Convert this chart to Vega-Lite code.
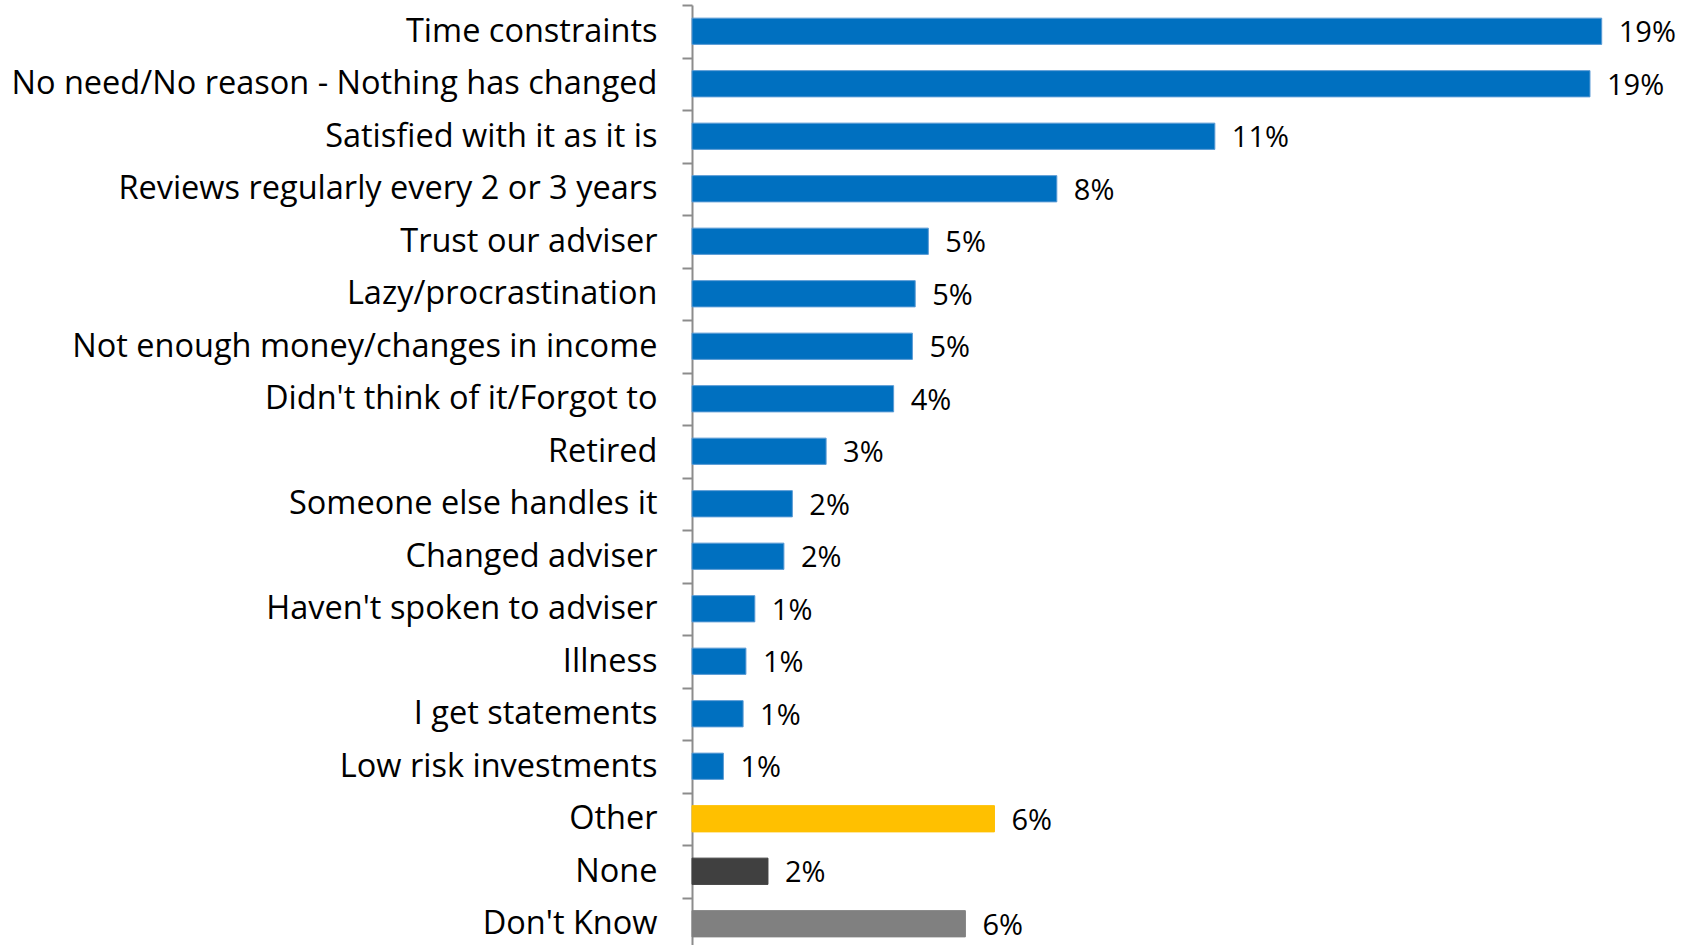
{
  "$schema": "https://vega.github.io/schema/vega-lite/v6.json",
  "width": 996,
  "height": 945,
  "autosize": {"type": "none"},
  "padding": {"left": 692, "top": 5, "right": 0, "bottom": 0},
  "background": "white",
  "config": {"view": {"stroke": null}, "font": "Open Sans"},
  "data": {"values": [
    {"reason": "Time constraints", "value": 0.194, "group": "main"},
    {"reason": "No need/No reason - Nothing has changed", "value": 0.1915, "group": "main"},
    {"reason": "Satisfied with it as it is", "value": 0.1115, "group": "main"},
    {"reason": "Reviews regularly every 2 or 3 years", "value": 0.0778, "group": "main"},
    {"reason": "Trust our adviser", "value": 0.0504, "group": "main"},
    {"reason": "Lazy/procrastination", "value": 0.0476, "group": "main"},
    {"reason": "Not enough money/changes in income", "value": 0.047, "group": "main"},
    {"reason": "Didn't think of it/Forgot to", "value": 0.043, "group": "main"},
    {"reason": "Retired", "value": 0.0286, "group": "main"},
    {"reason": "Someone else handles it", "value": 0.0214, "group": "main"},
    {"reason": "Changed adviser", "value": 0.0196, "group": "main"},
    {"reason": "Haven't spoken to adviser", "value": 0.0134, "group": "main"},
    {"reason": "Illness", "value": 0.0115, "group": "main"},
    {"reason": "I get statements", "value": 0.0109, "group": "main"},
    {"reason": "Low risk investments", "value": 0.0067, "group": "main"},
    {"reason": "Other", "value": 0.0645, "group": "other"},
    {"reason": "None", "value": 0.0162, "group": "none"},
    {"reason": "Don't Know", "value": 0.0583, "group": "dk"}
  ]},
  "encoding": {
    "y": {
      "field": "reason", "type": "nominal", "sort": null,
      "scale": {"paddingInner": 0, "paddingOuter": 0},
      "axis": {
        "title": null, "tickBand": "extent", "tickSize": 10, "tickColor": "#8c8c8c", "tickWidth": 2,
        "domainColor": "#8c8c8c", "domainWidth": 2, "labelPadding": 25,
        "labelFontSize": 32.5, "labelColor": "#000000", "labelFont": "Open Sans", "labelLimit": 700
      }
    },
    "x": {
      "field": "value", "type": "quantitative",
      "scale": {"domain": [0, 0.2124], "nice": false, "zero": true},
      "axis": null
    }
  },
  "layer": [
    {
      "mark": {"type": "bar", "strokeWidth": 1, "height": {"band": 0.5}},
      "encoding": {
        "color": {
          "field": "group", "type": "nominal", "legend": null,
          "scale": {"domain": ["main", "other", "none", "dk"], "range": ["#0070C0", "#FFC000", "#404040", "#808080"]}
        },
        "stroke": {
          "field": "group", "type": "nominal", "legend": null,
          "scale": {"domain": ["main", "other", "none", "dk"], "range": ["#5B9BD5", "#FFC000", "#404040", "#808080"]}
        }
      }
    },
    {
      "mark": {"type": "text", "align": "left", "baseline": "middle", "dx": 17, "dy": 2, "fontSize": 29, "font": "Open Sans", "color": "#000000"},
      "encoding": {
        "text": {"field": "value", "type": "quantitative", "format": ".0%"}
      }
    }
  ]
}
